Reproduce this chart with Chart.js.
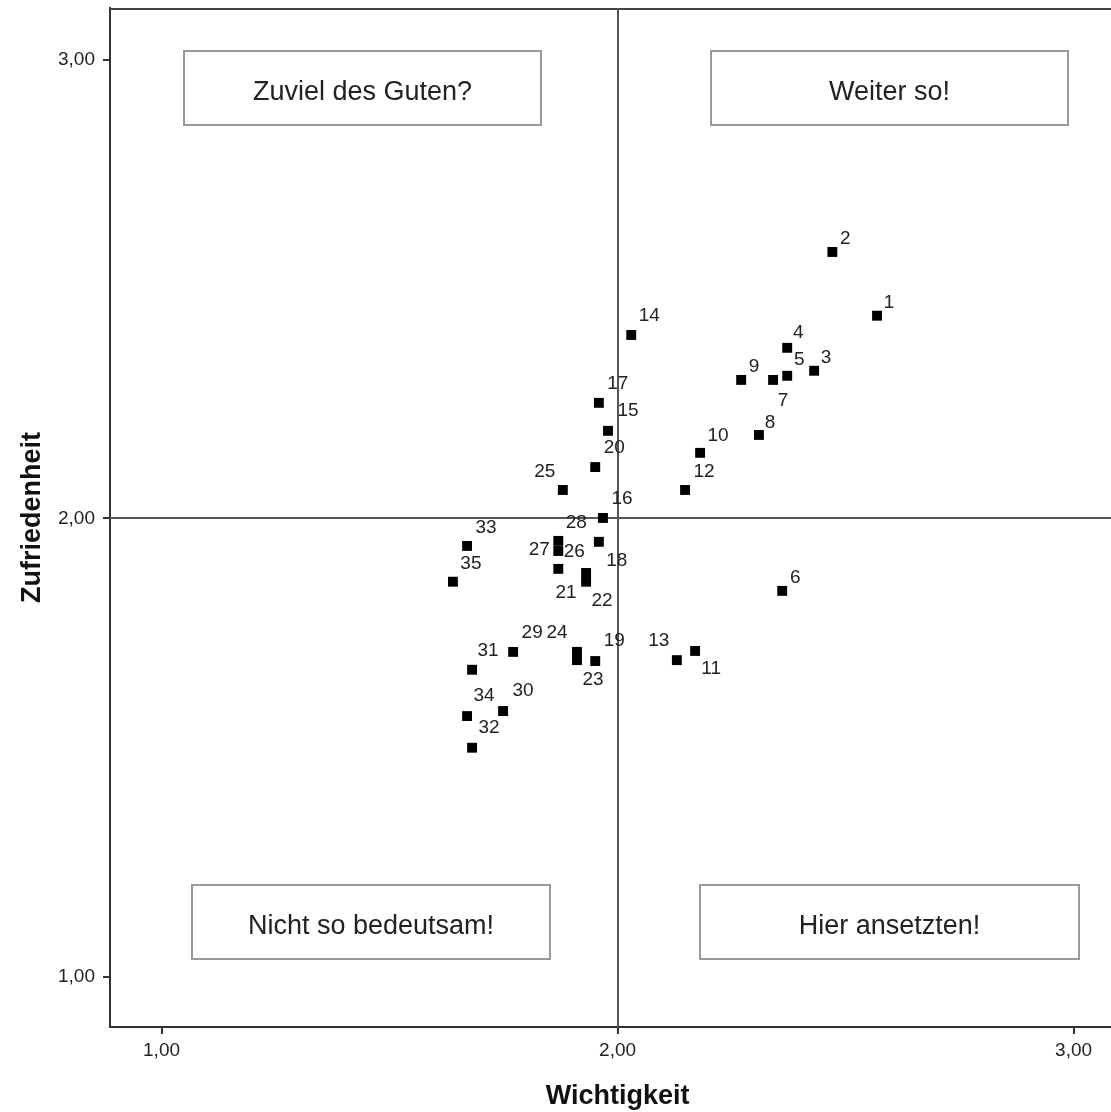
<!DOCTYPE html>
<html lang="de">
<head>
<meta charset="utf-8">
<title>Wichtigkeit und Zufriedenheit</title>
<script src="https://cdn.jsdelivr.net/npm/chart.js@4.4.0/dist/chart.umd.min.js"></script>
<style>
    html, body { margin: 0; padding: 0; background: #fff; overflow: hidden; }
    #wrap { width: 1111px; height: 1112px; }
    canvas { display: block; }
</style>
</head>
<body>
<div id="wrap"><canvas id="grafico" width="1111" height="1112"></canvas></div>
<script>
// Daten: Nummer des Merkmals, Wichtigkeit (x) und Zufriedenheit (y)
const nummern = [1, 2, 3, 4, 5, 6, 7, 8, 9, 10, 11, 12, 13, 14, 15, 16, 17, 18,
    19, 20, 21, 22, 23, 24, 25, 26, 27, 28, 29, 30, 31, 32, 33, 34, 35];
const wichtigkeit = [2.569, 2.471, 2.431, 2.372, 2.372, 2.361, 2.341, 2.310, 2.271, 2.181,
    2.170, 2.148, 2.130, 2.030, 1.979, 1.968, 1.959, 1.959, 1.951, 1.951,
    1.931, 1.931, 1.911, 1.911, 1.880, 1.870, 1.870, 1.870, 1.771, 1.749,
    1.681, 1.681, 1.670, 1.670, 1.639];
const zufriedenheit = [2.442, 2.581, 2.322, 2.372, 2.311, 1.842, 2.302, 2.182, 2.302, 2.143,
    1.711, 2.062, 1.691, 2.400, 2.191, 2.001, 2.252, 1.949, 1.689, 2.112,
    1.881, 1.862, 1.691, 1.709, 2.062, 1.890, 1.929, 1.951, 1.709, 1.580,
    1.670, 1.500, 1.940, 1.569, 1.862];
const achsenTicks = [1, 2, 3];
const mittelwert = { x: 2, y: 2 };
const xTitel = 'Wichtigkeit';
const yTitel = 'Zufriedenheit';
const quadrantTexte = ['Zuviel des Guten?', 'Weiter so!', 'Nicht so bedeutsam!', 'Hier ansetzten!'];

// Lage der Kästen in Achseneinheiten
const kastenLage = [
    { x0: 1.049, x1: 1.832, y0: 3.020, y1: 2.858 },
    { x0: 2.205, x1: 2.988, y0: 3.020, y1: 2.858 },
    { x0: 1.067, x1: 1.852, y0: 1.201, y1: 1.039 },
    { x0: 2.181, x1: 3.012, y0: 1.201, y1: 1.039 },
];

// Versatz der Punktbeschriftungen (Pixel, Textmitte relativ zum Punkt)
const beschriftungVersatz = [
    [12, -13], [13, -13], [12, -13], [11, -15], [12, -16], [13, -13], [10, 21], [11, -12],
    [13, -13], [18, -17], [16, 18], [19, -18], [-18, -19], [18, -19], [20, -20], [19, -19],
    [19, -19], [18, 19], [19, -20], [19, -19], [-20, 20], [16, 19], [16, 20], [-20, -19],
    [-18, -18], [16, -17], [-19, -1], [18, -18], [19, -19], [20, -20], [16, -19], [17, -20],
    [19, -18], [17, -20], [18, -18],
];

const schrift = '"Liberation Sans", Arial, sans-serif';

function formatZahl(wert) {
    return wert.toFixed(2).replace('.', ',');
}

// Plugin: Rahmen oben, Mittellinien, Quadrantenkästen, Nummern und x-Titel
const quadrantenPlugin = {
    id: 'quadranten',
    beforeDatasetsDraw(chart) {
        const { ctx, chartArea, scales: { x, y } } = chart;
        ctx.save();

        ctx.strokeStyle = '#444';
        ctx.lineWidth = 2;
        ctx.beginPath();
        ctx.moveTo(chartArea.left, chartArea.top + 1);
        ctx.lineTo(chartArea.right, chartArea.top + 1);
        ctx.stroke();

        const mx = Math.round(x.getPixelForValue(mittelwert.x));
        const my = Math.round(y.getPixelForValue(mittelwert.y));
        ctx.strokeStyle = '#555';
        ctx.beginPath();
        ctx.moveTo(mx, chartArea.top);
        ctx.lineTo(mx, chartArea.bottom);
        ctx.moveTo(chartArea.left, my);
        ctx.lineTo(chartArea.right, my);
        ctx.stroke();

        ctx.font = `27px ${schrift}`;
        ctx.textAlign = 'center';
        ctx.textBaseline = 'middle';
        kastenLage.forEach((k, i) => {
            const l = Math.round(x.getPixelForValue(k.x0));
            const r = Math.round(x.getPixelForValue(k.x1));
            const t = Math.round(y.getPixelForValue(k.y0));
            const b = Math.round(y.getPixelForValue(k.y1));
            ctx.fillStyle = '#fff';
            ctx.fillRect(l, t, r - l, b - t);
            ctx.strokeStyle = '#9a9a9a';
            ctx.lineWidth = 2;
            ctx.strokeRect(l, t, r - l, b - t);
            ctx.fillStyle = '#222';
            ctx.fillText(quadrantTexte[i], (l + r) / 2, (t + b) / 2 + 5);
        });
        ctx.restore();
    },
    afterDatasetsDraw(chart) {
        const { ctx } = chart;
        const punkte = chart.getDatasetMeta(0).data;
        ctx.save();
        ctx.font = `19px ${schrift}`;
        ctx.fillStyle = '#222';
        ctx.textAlign = 'center';
        ctx.textBaseline = 'middle';
        punkte.forEach((p, i) => {
            const [dx, dy] = beschriftungVersatz[i];
            ctx.fillText(String(nummern[i]), p.x + dx, p.y + dy);
        });
        ctx.restore();
    },
    afterDraw(chart) {
        // x-Titel unter der Mittellinie zentriert (wie im Original)
        const { ctx, scales: { x } } = chart;
        ctx.save();
        ctx.font = `bold 27px ${schrift}`;
        ctx.fillStyle = '#111';
        ctx.textAlign = 'center';
        ctx.textBaseline = 'middle';
        ctx.fillText(xTitel, x.getPixelForValue(mittelwert.x), x.bottom - 15);
        ctx.restore();
    },
};

function erstelleGrafik() {
    const canvas = document.getElementById('grafico');
    const ctx = canvas.getContext('2d');

    const punkte = nummern.map((_, i) => ({ x: wichtigkeit[i], y: zufriedenheit[i] }));

    const achse = () => ({
        type: 'linear',
        afterBuildTicks: (s) => { s.ticks = achsenTicks.map(v => ({ value: v })); },
        grid: {
            drawOnChartArea: false,
            drawTicks: true,
            tickLength: 7,
            color: '#333',
            lineWidth: 2,
        },
        border: { color: '#333', width: 2 },
        ticks: {
            color: '#222',
            font: { family: schrift, size: 19 },
            callback: (v) => formatZahl(v),
        },
    });

    const xAchse = achse();
    xAchse.min = 0.887;
    xAchse.max = 3.082;
    xAchse.ticks.padding = 5;
    xAchse.afterFit = (s) => {
        s.height = 85;
        s.paddingLeft = 0;
        s.paddingRight = 0;
    };

    const yAchse = achse();
    yAchse.min = 0.891;
    yAchse.max = 3.113;
    yAchse.ticks.padding = 8;
    yAchse.title = {
        display: true,
        text: yTitel,
        color: '#111',
        font: { family: schrift, size: 27, weight: 'bold' },
        padding: { top: 16, bottom: 0 },
    };
    yAchse.afterFit = (s) => {
        s.width = 110;
        s.paddingTop = 0;
        s.paddingBottom = 0;
    };

    new Chart(ctx, {
        type: 'scatter',
        data: {
            datasets: [{
                label: 'Merkmale',
                data: punkte,
                pointStyle: 'rect',
                pointRadius: 7,
                pointHoverRadius: 7,
                borderWidth: 0,
                backgroundColor: '#000',
                borderColor: '#000',
            }],
        },
        options: {
            responsive: false,
            animation: false,
            layout: { autoPadding: false, padding: { top: 8, right: 0, bottom: 0, left: 0 } },
            plugins: {
                legend: { display: false },
                tooltip: { enabled: false },
            },
            scales: { x: xAchse, y: yAchse },
        },
        plugins: [quadrantenPlugin],
    });
}

document.addEventListener('DOMContentLoaded', erstelleGrafik);
</script>
</body>
</html>
